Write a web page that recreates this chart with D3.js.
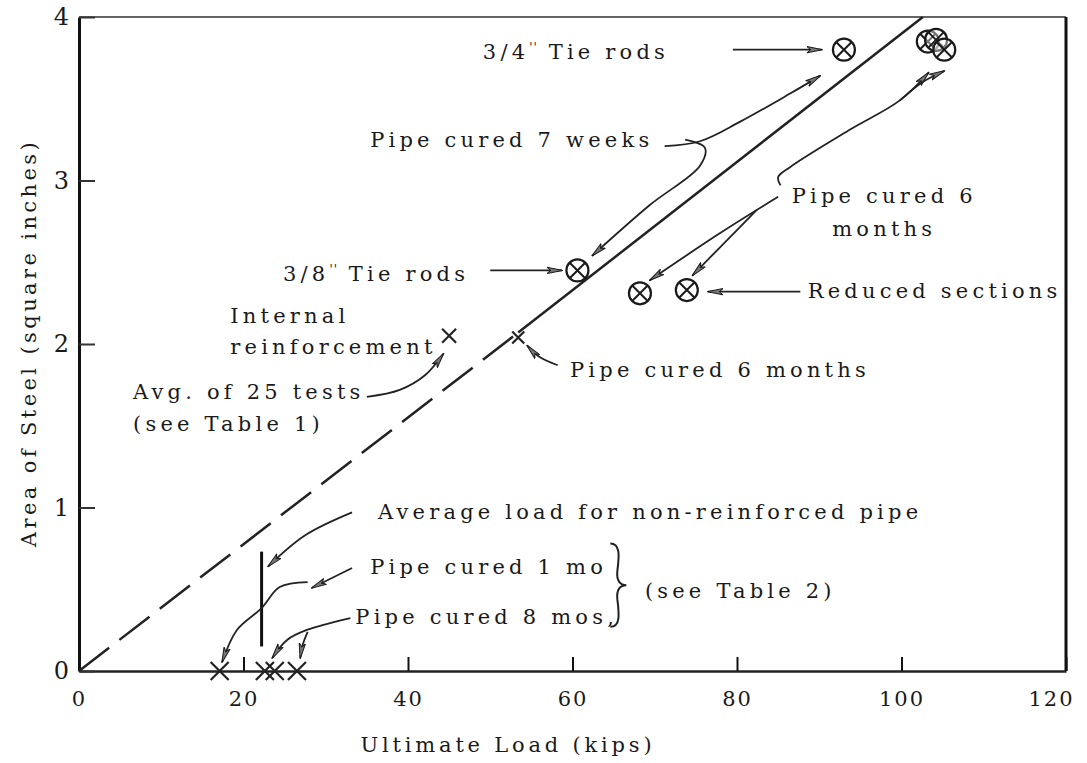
<!DOCTYPE html>
<html>
<head>
<meta charset="utf-8">
<script src="https://cdn.jsdelivr.net/npm/d3@7"></script>
<style>
  body { margin: 0; background: #fff; }
  svg text { font-family: "DejaVu Serif", serif; fill: #1a1a1a; }
</style>
</head>
<body>
<svg id="graph"></svg>
<script>
// values
var xTicks = [0, 20, 40, 60, 80, 100, 120]
var yTicks = [0, 1, 2, 3, 4]

// the fitted line, dashed then solid
var dashLoad = [0, 53.4]
var dashSteel = [0, 2.07]
var solidLoad = [53.4, 102.6]
var solidSteel = [2.07, 4.0]

// circled crosses (tie rods)
var tieLoad = [60.6, 68.2, 73.9, 93.0, 103.2, 104.2, 105.2]
var tieSteel = [2.45, 2.31, 2.33, 3.80, 3.85, 3.86, 3.80]

// plain crosses
var crossLoad = [17.1, 22.6, 23.8, 26.5, 45.0, 53.4]
var crossSteel = [0, 0, 0, 0, 2.05, 2.04]
var crossSize = [9, 9, 9, 9, 7, 6]

// average load for non-reinforced pipe
var avgLoad = 22.2
var avgSteel = [0.15, 0.73]

// text notes: text, load, steel, anchor, superscript + rest
var notes = [
  ["3/4", 49.1, 3.743, "start", "''  Tie rods"],
  ["Pipe cured 7 weeks", 35.4, 3.205, "start"],
  ["3/8", 24.8, 2.385, "start", "''  Tie rods"],
  ["Pipe cured 6", 97.9, 2.862, "middle"],
  ["months", 97.9, 2.66, "middle"],
  ["Reduced sections", 88.6, 2.281, "start"],
  ["Internal", 18.4, 2.128, "start"],
  ["reinforcement", 18.4, 1.94, "start"],
  ["Avg. of 25 tests", 6.57, 1.664, "start"],
  ["(see Table 1)", 6.57, 1.468, "start"],
  ["Pipe cured 6 months", 59.7, 1.798, "start"],
  ["Average load for non-reinforced pipe", 36.35, 0.93, "start"],
  ["Pipe cured 1 mo", 35.4, 0.593, "start"],
  ["Pipe cured 8 mos,", 33.6, 0.287, "start"],
  ["(see Table 2)", 68.8, 0.446, "start"]
]

// arrows as [load, steel] points, tip last
var arrows = [
  [[79.5, 3.80], [90.3, 3.80]],
  [[71.2, 3.21], [75.5, 3.24], [80.4, 3.36], [86.4, 3.53], [90.1, 3.64]],
  [[73.7, 3.25], [76.1, 3.20], [75.5, 3.09], [69.4, 2.85], [62.4, 2.54]],
  [[50.0, 2.45], [58.7, 2.45]],
  [[85.3, 2.97], [85.0, 3.02], [86.4, 3.08], [93.7, 3.31], [99.8, 3.49], [103.3, 3.66]],
  [[99.8, 3.49], [102.5, 3.60], [105.2, 3.67]],
  [[85.0, 2.90], [78.0, 2.68], [69.4, 2.39]],
  [[82.4, 2.82], [78.5, 2.62], [74.6, 2.42]],
  [[87.7, 2.32], [76.5, 2.32]],
  [[35.0, 1.676], [39.0, 1.719], [42.1, 1.81], [44.3, 1.94]],
  [[58.2, 1.87], [56.0, 1.92], [54.5, 1.99]],
  [[33.2, 0.97], [27.5, 0.83], [23.0, 0.64]],
  [[33.2, 0.63], [28.3, 0.508]],
  [[27.8, 0.544], [24.4, 0.514], [22.2, 0.385], [19.2, 0.251], [17.4, 0.055]],
  [[33.0, 0.324], [27.7, 0.251], [25.3, 0.19], [23.5, 0.08]],
  [[27.8, 0.239], [27.2, 0.16], [26.9, 0.08]]
]

var screen = {width: 1087, height: 763}
var plot = {left: 79, right: 1066, top: 17, bottom: 671}
var noteFont = {size: "21px", spacing: "4.2px"}

var svg = d3.select("#graph")
  .attr("width", screen.width)
  .attr("height", screen.height)

var xScale = d3.scaleLinear()
  .domain([0, 120])
  .range([plot.left, plot.right])

var yScale = d3.scaleLinear()
  .domain([0, 4])
  .range([plot.bottom, plot.top])

svg.append("defs").append("marker")
  .attr("id", "head")
  .attr("viewBox", "0 0 16 8")
  .attr("refX", 15)
  .attr("refY", 4)
  .attr("markerWidth", 16)
  .attr("markerHeight", 8)
  .attr("markerUnits", "userSpaceOnUse")
  .attr("orient", "auto")
  .append("path")
  .attr("d", "M0,0.8 L16,4 L0,7.2 L4,4 Z")
  .attr("fill", "#777")
  .attr("stroke", "#1a1a1a")
  .attr("stroke-width", 1)

// frame
var frame = svg.append("g")
frame.append("line")
  .attr("x1", xScale(0)).attr("x2", xScale(120))
  .attr("y1", yScale(4)).attr("y2", yScale(4))
  .attr("stroke", "#333").attr("stroke-width", 1.6)
frame.append("line")
  .attr("x1", xScale(120)).attr("x2", xScale(120))
  .attr("y1", yScale(4)).attr("y2", yScale(0))
  .attr("stroke", "#111").attr("stroke-width", 3)

// axes
var xAxis = d3.axisBottom(xScale)
  .tickValues(xTicks)
  .tickFormat(d3.format("d"))
  .tickSize(-14)
  .tickSizeOuter(0)
  .tickPadding(20)

var yAxis = d3.axisLeft(yScale)
  .tickValues(yTicks)
  .tickFormat(d3.format("d"))
  .tickSize(-16)
  .tickSizeOuter(0)
  .tickPadding(10)

var gx = svg.append("g")
  .attr("transform", "translate(0," + plot.bottom + ")")
  .call(xAxis)
gx.select(".domain").attr("stroke", "#222").attr("stroke-width", 2.5)
gx.selectAll(".tick line").attr("stroke", "#111").attr("stroke-width", 2)
gx.selectAll(".tick text")
  .style("font-family", "DejaVu Serif")
  .style("font-size", "21px")
  .style("letter-spacing", "2px")
  .attr("fill", "#1a1a1a")
  .filter(function(d) { return d == 120 })
  .attr("text-anchor", "end")
  .attr("dx", 8)

var gy = svg.append("g")
  .attr("transform", "translate(" + plot.left + ",0)")
  .call(yAxis)
gy.select(".domain").attr("stroke", "#111").attr("stroke-width", 3)
gy.selectAll(".tick line").attr("stroke", "#333").attr("stroke-width", 2)
gy.selectAll(".tick text")
  .style("font-family", "DejaVu Serif")
  .style("font-size", "24px")
  .attr("fill", "#1a1a1a")

// axis titles
svg.append("text")
  .attr("x", 508)
  .attr("y", 752)
  .attr("text-anchor", "middle")
  .style("font-size", noteFont.size)
  .style("letter-spacing", "3.8px")
  .text("Ultimate Load (kips)")

svg.append("text")
  .attr("transform", "translate(36,343) rotate(-90)")
  .attr("text-anchor", "middle")
  .style("font-size", noteFont.size)
  .style("letter-spacing", "3.4px")
  .text("Area of Steel (square inches)")

// fitted line
var line = d3.line()
  .x(function(d) { return xScale(d[0]) })
  .y(function(d) { return yScale(d[1]) })

svg.append("path")
  .attr("d", line(d3.zip(dashLoad, dashSteel)))
  .attr("fill", "none")
  .attr("stroke", "#222")
  .attr("stroke-width", 2.5)
  .attr("stroke-dasharray", "38,13")

svg.append("path")
  .attr("d", line(d3.zip(solidLoad, solidSteel)))
  .attr("fill", "none")
  .attr("stroke", "#222")
  .attr("stroke-width", 2.5)

// average load line
svg.append("line")
  .attr("x1", xScale(avgLoad)).attr("x2", xScale(avgLoad))
  .attr("y1", yScale(avgSteel[0])).attr("y2", yScale(avgSteel[1]))
  .attr("stroke", "#111")
  .attr("stroke-width", 3)

// arrows
var curve = d3.line()
  .x(function(d) { return xScale(d[0]) })
  .y(function(d) { return yScale(d[1]) })
  .curve(d3.curveCatmullRom)

svg.append("g")
  .selectAll("path")
  .data(arrows)
  .enter()
  .append("path")
  .attr("d", curve)
  .attr("fill", "none")
  .attr("stroke", "#222")
  .attr("stroke-width", 1.8)
  .attr("marker-end", "url(#head)")

// brace for the table 2 notes
var braceX = xScale(64.6)
var braceTop = yScale(0.78)
var braceBot = yScale(0.27)
var braceMid = (braceTop + braceBot) / 2
var bp = d3.path()
bp.moveTo(braceX, braceTop)
bp.bezierCurveTo(braceX + 10, braceTop, braceX + 9, braceTop + 12, braceX + 7, braceMid - 14)
bp.bezierCurveTo(braceX + 6, braceMid - 4, braceX + 10, braceMid, braceX + 16, braceMid)
bp.bezierCurveTo(braceX + 10, braceMid, braceX + 6, braceMid + 4, braceX + 7, braceMid + 14)
bp.bezierCurveTo(braceX + 9, braceBot - 12, braceX + 10, braceBot, braceX, braceBot)
svg.append("path")
  .attr("d", bp.toString())
  .attr("fill", "none")
  .attr("stroke", "#222")
  .attr("stroke-width", 2)

// plain crosses
svg.append("g")
  .selectAll("path")
  .data(d3.range(crossLoad.length))
  .enter()
  .append("path")
  .attr("d", function(i) {
    var cx = xScale(crossLoad[i]), cy = yScale(crossSteel[i]), s = crossSize[i]
    return "M" + (cx - s) + "," + (cy - s) + "L" + (cx + s) + "," + (cy + s) +
      "M" + (cx - s) + "," + (cy + s) + "L" + (cx + s) + "," + (cy - s)
  })
  .attr("stroke", "#222")
  .attr("stroke-width", 2.2)

// circled crosses
var tie = svg.append("g")
  .selectAll("g")
  .data(d3.range(tieLoad.length))
  .enter()
  .append("g")
  .attr("transform", function(i) {
    return "translate(" + xScale(tieLoad[i]) + "," + yScale(tieSteel[i]) + ")"
  })
tie.append("circle")
  .attr("r", 11)
  .attr("fill", "#fff")
  .attr("fill-opacity", 0.4)
  .attr("stroke", "#1a1a1a")
  .attr("stroke-width", 2.2)
tie.append("path")
  .attr("d", "M-7.5,-7.5L7.5,7.5M-7.5,7.5L7.5,-7.5")
  .attr("stroke", "#1a1a1a")
  .attr("stroke-width", 2)

// notes
var noteText = svg.append("g")
  .selectAll("text")
  .data(notes)
  .enter()
  .append("text")
  .attr("x", function(d) { return xScale(d[1]) })
  .attr("y", function(d) { return yScale(d[2]) })
  .attr("text-anchor", function(d) { return d[3] })
  .style("font-size", noteFont.size)
  .style("letter-spacing", noteFont.spacing)
  .text(function(d) { return d[0] })

noteText.filter(function(d) { return d[4] })
  .each(function(d) {
    var t = d3.select(this)
    var parts = d[4].split("  ")
    t.append("tspan").attr("dy", -7).style("font-size", "12px").style("letter-spacing", "1px").text(parts[0])
    t.append("tspan").attr("dy", 7).text(" " + parts[1])
  })
</script>
</body>
</html>
